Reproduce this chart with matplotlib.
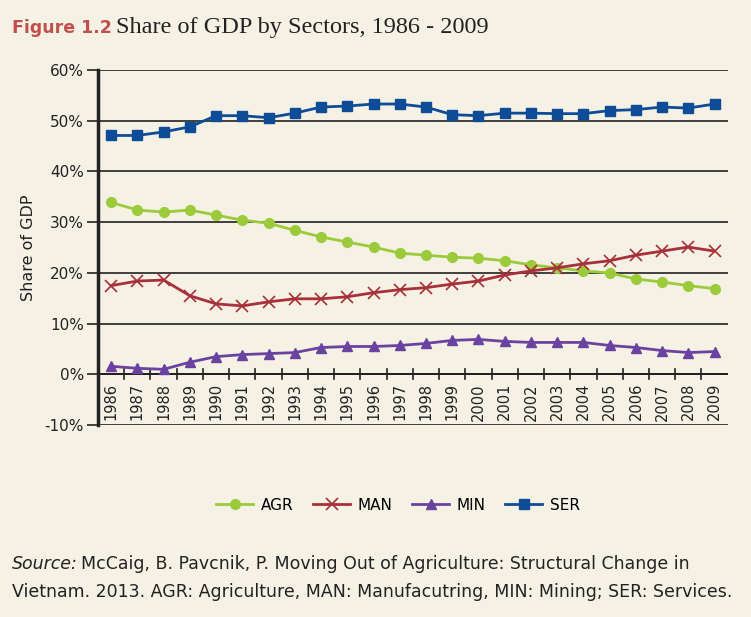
import matplotlib.pyplot as plt
from matplotlib.ticker import FuncFormatter

years = [str(y) for y in range(1986, 2010)]
agr = [33.9, 32.4, 32.0, 32.4, 31.4, 30.4, 29.8, 28.4, 27.1, 26.1, 25.1, 23.9,
       23.5, 23.1, 22.9, 22.4, 21.6, 21.0, 20.4, 20.0, 18.8, 18.2, 17.5, 16.9]
man = [17.5, 18.4, 18.6, 15.5, 13.9, 13.5, 14.3, 14.9, 14.9, 15.3, 16.1, 16.7,
       17.1, 17.8, 18.4, 19.6, 20.4, 21.0, 21.8, 22.4, 23.5, 24.3, 25.1, 24.3]
mnn = [1.6, 1.2, 1.0, 2.4, 3.5, 3.9, 4.1, 4.3, 5.3, 5.5, 5.5, 5.7,
       6.1, 6.7, 6.9, 6.5, 6.3, 6.3, 6.3, 5.7, 5.3, 4.7, 4.3, 4.5]
ser = [47.1, 47.1, 47.8, 48.8, 51.0, 51.0, 50.6, 51.5, 52.7, 52.9, 53.3, 53.3,
       52.7, 51.2, 51.0, 51.5, 51.5, 51.4, 51.4, 52.0, 52.2, 52.7, 52.5, 53.3]
yticks = [-10, 0, 10, 20, 30, 40, 50, 60]

bg = '#F5F1E4'
ink = '#222222'
fig = plt.figure(figsize=(7.51, 6.17), dpi=100, facecolor=bg)
ax = fig.add_axes([0.1305, 0.311, 0.8385, 0.5755], facecolor=bg)

x = list(range(len(years)))
ax.plot(x, agr, color='#9BCB3B', lw=2.0, marker='o', ms=7, label='AGR')
ax.plot(x, man, color='#A8303A', lw=2.0, marker='x', ms=9, mew=1.2, label='MAN')
ax.plot(x, mnn, color='#6A43A0', lw=2.0, marker='^', ms=7, label='MIN')
ax.plot(x, ser, color='#0E4C97', lw=2.0, marker='s', ms=7, label='SER')

ax.set_xlim(-0.5, len(years) - 0.5)
ax.set_ylim(-10, 60)
ax.set_yticks(yticks)
ax.yaxis.set_major_formatter(FuncFormatter(lambda v, p: f'{v:.0f}%'))
ax.grid(axis='y', color=ink, lw=1.2)
ax.set_axisbelow(True)
for s in ['top', 'right', 'bottom']:
    ax.spines[s].set_visible(False)
ax.spines['left'].set_linewidth(2.5)
ax.spines['left'].set_color(ink)
ax.tick_params(axis='y', length=8, width=1.2, color=ink, labelsize=11,
               labelcolor=ink, pad=2)

# x axis sits on the 0% line, ticks between categories
ax.set_xticks([])
ax.axhline(0, color=ink, lw=1.4, zorder=1)
for i in range(1, len(years)):
    ax.plot([i - 0.5, i - 0.5], [-1.0, 1.0], color=ink, lw=1.2, zorder=1)
for i, yr in enumerate(years):
    ax.text(i, -1.7, yr, rotation=90, ha='center', va='top', fontsize=10.5,
            color=ink)

ax.set_ylabel('Share of GDP', fontsize=11.5, color=ink, labelpad=6)

fig.legend(loc='center', bbox_to_anchor=(0.53, 0.181), ncol=4, frameon=False,
           fontsize=11, handlelength=2.4, columnspacing=1.3, handletextpad=0.5)

# title: bold red label followed by serif text
fig.canvas.draw()
r = fig.canvas.get_renderer()
t1 = fig.text(0.016, 0.955, 'Figure 1.2', fontsize=12.5, fontweight='bold',
              color='#C0504D', va='center')
bb = t1.get_window_extent(r).transformed(fig.transFigure.inverted())
fig.text(bb.x1 + 0.006, 0.955, 'Share of GDP by Sectors, 1986 - 2009', fontsize=17.5,
         color=ink, family='Liberation Serif', va='center')

# source note: italic "Source:" then regular text
s1 = fig.text(0.016, 0.077, 'Source:', fontsize=12.5, style='italic', color=ink)
bb = s1.get_window_extent(r).transformed(fig.transFigure.inverted())
fig.text(bb.x1 + 0.004, 0.077,
         'McCaig, B. Pavcnik, P. Moving Out of Agriculture: Structural Change in',
         fontsize=12.5, color=ink)
fig.text(0.016, 0.033,
         'Vietnam. 2013. AGR: Agriculture, MAN: Manufacutring, MIN: Mining; SER: Services.',
         fontsize=12.5, color=ink)

fig.savefig('out.png', dpi=100, facecolor=bg)
